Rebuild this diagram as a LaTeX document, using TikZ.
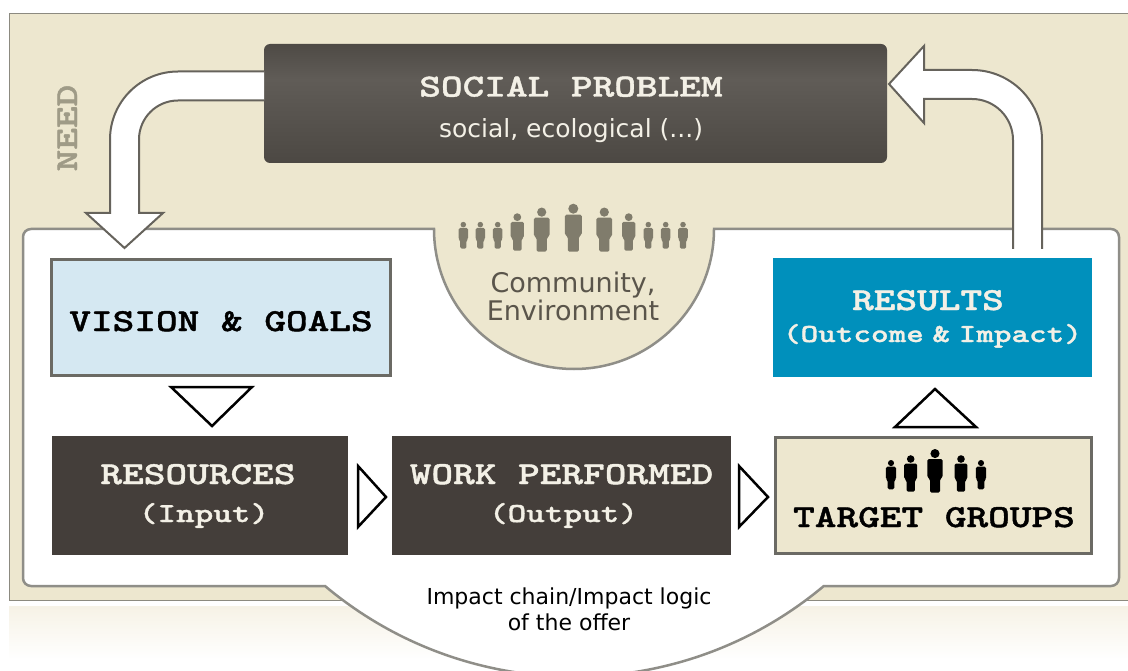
\documentclass[tikz,border=0pt]{standalone}
\usepackage{fontspec}
\newfontfamily\verdanalike{DejaVu Sans}
\newfontfamily\slabfont{lmmonolt10-bold.otf}[FakeBold=1.2,FakeStretch=1.29]
\definecolor{sand}{RGB}{237,231,207}
\definecolor{sandline}{RGB}{140,138,128}
\definecolor{panelline}{RGB}{143,142,136}
\definecolor{darkbox}{RGB}{68,62,58}
\definecolor{arrowline}{RGB}{102,99,92}
\definecolor{boxline}{RGB}{107,106,100}
\definecolor{visionblue}{RGB}{213,232,242}
\definecolor{resultblue}{RGB}{0,144,188}
\definecolor{peoplegray}{RGB}{128,124,108}
\definecolor{needgray}{RGB}{159,155,135}
\definecolor{communitytext}{RGB}{90,85,75}
\definecolor{fadetop}{RGB}{246,242,230}
\definecolor{lighttext}{RGB}{243,240,230}
\definecolor{socialtop}{RGB}{78,74,69}
\definecolor{socialmid}{RGB}{96,92,87}
\definecolor{socialbot}{RGB}{76,72,67}
\pgfdeclareverticalshading{socialshade}{100bp}{color(0bp)=(socialbot); color(25bp)=(socialbot); color(60bp)=(socialmid); color(75bp)=(socialtop); color(100bp)=(socialtop)}
\tikzset{
  box/.style={minimum width=#1,inner sep=0pt,outer sep=0pt,minimum height=119pt},
  slab/.style={font=\fontsize{32}{34}\selectfont\slabfont,anchor=base,inner sep=0pt},
  slabsmall/.style={font=\fontsize{#1}{28}\selectfont\slabfont,anchor=base,inner sep=0pt},
  sans/.style={font=\fontsize{#1}{25.5}\selectfont\verdanalike,align=center,inner sep=0pt},
  bigarrow/.style={draw=arrowline,line width=2pt,fill=white,line join=miter},
  flow/.style={draw=black,line width=2.5pt,fill=white,line join=miter},
  person/.pic={
    \fill (0,-43) circle [radius=5];
    \fill[rounded corners=1.5pt] (-8.5,-37) -- (8.5,-37) -- (8.5,-17) -- (5.5,-15) -- (5.5,0) -- (-5.5,0) -- (-5.5,-15) -- (-8.5,-17) -- cycle;
  }
}
\begin{document}
\begin{tikzpicture}[x=1pt,y=-1pt]
\useasboundingbox (0,0) rectangle (1128,671);
\clip (0,0) rectangle (1128,671);

\shade[top color=fadetop,bottom color=white] (9,606) rectangle (1128,660);
\filldraw[draw=sandline,fill=sand,line width=1pt] (9.5,13.5) rectangle (1140,600.5);

\filldraw[draw=panelline,fill=white,line width=2.5pt] (434,229) -- (31,229) arc [start angle=270,end angle=180,radius=8] -- (23,578) arc [start angle=180,end angle=90,radius=8]
  -- (325,586) arc [start angle=130,end angle=50,radius=388] -- (1111,586) arc [start angle=90,end angle=0,radius=8]
  -- (1119,237) arc [start angle=0,end angle=-90,radius=8] -- (714,229) arc [start angle=0,end angle=180,radius=140] -- cycle;

\node[box=623pt,rounded corners=6pt,shading=socialshade] (social) at (575.5,103.5) {};
\node[slab,text=lighttext] (socialtitle) at (571,96.5) {SOCIAL PROBLEM};
\node[sans=25,text=lighttext,anchor=base] (socialsub) at (571,138) {social, ecological (...)};
\node[slab,text=needgray,rotate=90] (need) at (77,128) {NEED};

\draw[bigarrow] (social.west |- 0,71.5) -- (178,71.5) arc [start angle=270,end angle=180,radius=68] -- (110,213) -- (86,213) -- (124.5,248) -- (163,213) -- (139,213) -- (139,139.5) arc [start angle=180,end angle=270,radius=39] -- (social.west |- 0,100.5);
\draw[bigarrow] (1013,249) -- (1013,140) arc [start angle=0,end angle=-90,radius=41] -- (924,99) -- (924,123) -- (889,84) -- (924,46) -- (924,70) -- (972,70) arc [start angle=-90,end angle=0,radius=70] -- (1042,249);

\foreach \px/\py/\ps in {463.3/248.7/.56,480.3/248.7/.56,497.7/248.7/.56,517.3/250.7/.78,541.7/251.7/.92,573.3/251.7/1,604.3/251.7/.92,628.7/250.7/.78,648.3/248.7/.56,665.7/248.7/.56,683/248.7/.56}
  \pic[peoplegray,scale=\ps] at (\px,\py) {person};
\node[sans=27,text=communitytext,anchor=base] (community) at (573,320) {Community,\\Environment};

\node[box=339pt,minimum height=115pt,draw=boxline,line width=3pt,fill=visionblue] (vision) at (221,317.5) {};
\node[slab,text=black] (visiontext) at (221,331) {VISION \& GOALS};

\node[box=296pt,fill=darkbox] (resources) at (200,495.5) {};
\node[slab,text=lighttext] (resourcestext) at (198,484) {RESOURCES};
\node[slabsmall=27.5,text=lighttext] (inputtext) at (204,522) {(Input)};

\node[box=339pt,fill=darkbox] (work) at (561.5,495.5) {};
\node[slab,text=lighttext] (worktext) at (561.5,484) {WORK PERFORMED};
\node[slabsmall=27.5,text=lighttext] (outputtext) at (563.5,522) {(Output)};

\node[box=316pt,minimum height=116pt,draw=boxline,line width=3pt,fill=sand] (target) at (933,495) {};
\foreach \px/\py/\ps in {891/489.3/.61,910.7/491.7/.76,935/492.7/.91,961/491.7/.76,981/489.3/.61}
  \pic[black,scale=\ps] at (\px,\py) {person};
\node[slab,text=black] (targettext) at (934,527) {TARGET GROUPS};

\node[box=319pt,fill=resultblue] (results) at (932.5,317.5) {};
\node[slab,text=lighttext] (resultstext) at (928,310) {RESULTS};
\node[slabsmall=26,text=lighttext] (outcometext) at (932.5,342) {(Outcome\hspace{-9pt} \& \hspace{-9pt}Impact)};

\draw[flow] (171,387) -- (252,387) -- (212,426) -- cycle;
\draw[flow] (358,466) -- (386,497) -- (358,527) -- cycle;
\draw[flow] (739,466) -- (768,497) -- (739,527) -- cycle;
\draw[flow] (935,389) -- (976,427) -- (895,427) -- cycle;

\node[sans=22,text=black,anchor=base] (impact) at (569,630) {Impact chain/Impact logic\\of the offer};
\end{tikzpicture}
\end{document}
